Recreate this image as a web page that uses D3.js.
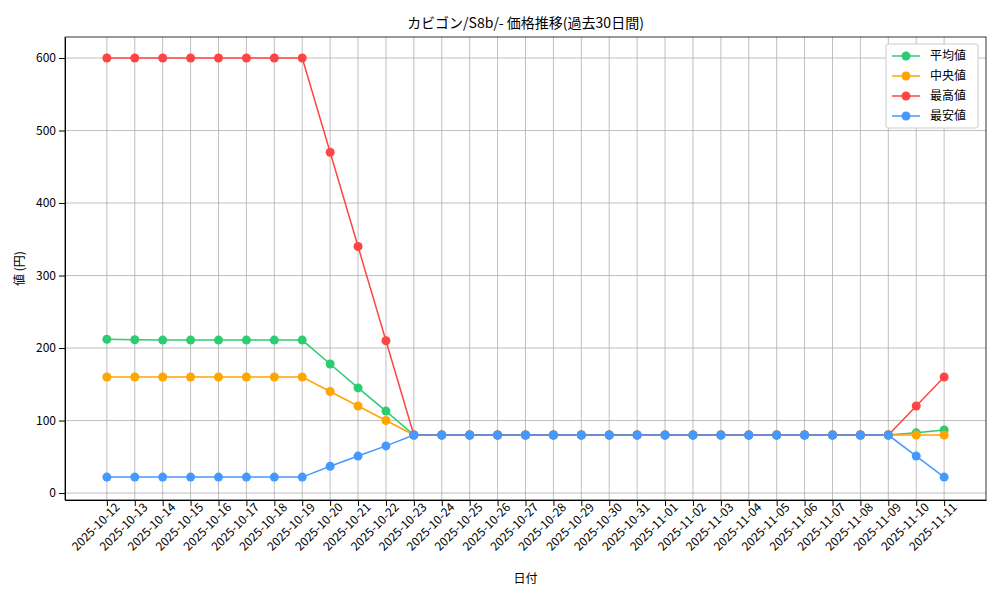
<!DOCTYPE html>
<html><head><meta charset="utf-8">
<script src="https://cdn.jsdelivr.net/npm/d3@7"></script>
<style>body{margin:0;background:#fff}text{font-family:"Noto Sans CJK JP",sans-serif}</style>
</head><body><div id="vis"></div>
<script>
const DATES = ["2025-10-12","2025-10-13","2025-10-14","2025-10-15","2025-10-16","2025-10-17","2025-10-18","2025-10-19","2025-10-20","2025-10-21","2025-10-22","2025-10-23","2025-10-24","2025-10-25","2025-10-26","2025-10-27","2025-10-28","2025-10-29","2025-10-30","2025-10-31","2025-11-01","2025-11-02","2025-11-03","2025-11-04","2025-11-05","2025-11-06","2025-11-07","2025-11-08","2025-11-09","2025-11-10","2025-11-11"];
const AVG = [212,211.5,211,211,211,211,211,211,178,145,113,80,80,80,80,80,80,80,80,80,80,80,80,80,80,80,80,80,80,83,87];
const MEDIAN = [160,160,160,160,160,160,160,160,140,120,100,80,80,80,80,80,80,80,80,80,80,80,80,80,80,80,80,80,80,80,80];
const MAX = [600,600,600,600,600,600,600,600,470,340,210,80,80,80,80,80,80,80,80,80,80,80,80,80,80,80,80,80,80,120,160];
const MIN = [22,22,22,22,22,22,22,22,37,51,65,80,80,80,80,80,80,80,80,80,80,80,80,80,80,80,80,80,80,51,22];
const Y_TICKS = [0,100,200,300,400,500,600];
const SERIES = [
  {name:"平均値", values:AVG, color:"#2ecc71"},
  {name:"中央値", values:MEDIAN, color:"#ffa500"},
  {name:"最高値", values:MAX, color:"#ff4444"},
  {name:"最安値", values:MIN, color:"#4499ff"}
];
const M = {left:65, right:14, top:37, bottom:100};
const W = 1000, H = 600, VW = W-M.left-M.right, VH = H-M.top-M.bottom;
const svg = d3.select("#vis").append("svg").attr("width",W).attr("height",H);
const g = svg.append("g").attr("transform",`translate(${M.left},${M.top})`);
const X = d3.scaleLinear().domain([-1.5, DATES.length-1+1.5]).range([0,VW]);
const Y = d3.scaleLinear().domain([-9.6, 629]).range([VH,0]);

// grid
g.selectAll(".gx").data(DATES).enter().append("line")
  .attr("x1",(d,i)=>X(i)).attr("x2",(d,i)=>X(i)).attr("y1",0).attr("y2",VH)
  .attr("stroke","#b0b0b0").attr("stroke-width",0.8);
g.selectAll(".gy").data(Y_TICKS).enter().append("line")
  .attr("x1",0).attr("x2",VW).attr("y1",d=>Y(d)).attr("y2",d=>Y(d))
  .attr("stroke","#b0b0b0").attr("stroke-width",0.8);

// axes
const xa = g.append("g").attr("transform",`translate(0,${VH})`)
  .call(d3.axisBottom(X).tickValues(d3.range(DATES.length)).tickFormat(i=>DATES[i]).tickSizeOuter(0));
xa.selectAll("text").attr("font-size","12px").attr("fill","#000")
  .attr("text-anchor","end").attr("dx","0.3em").attr("dy","0.5em").attr("transform","rotate(-45)");
const ya = g.append("g").call(d3.axisLeft(Y).tickValues(Y_TICKS).tickSizeOuter(0));
ya.selectAll("text").attr("font-size","12px").attr("fill","#000");
g.append("rect").attr("width",VW).attr("height",VH).attr("fill","none").attr("stroke","#000").attr("stroke-width",0.8);

// lines
const line = d3.line().x((d,i)=>X(i)).y(d=>Y(d));
SERIES.forEach(s=>{
  g.append("path").datum(s.values).attr("d",line).attr("fill","none").attr("stroke",s.color).attr("stroke-width",1.5);
  g.selectAll(null).data(s.values).enter().append("circle")
    .attr("cx",(d,i)=>X(i)).attr("cy",d=>Y(d)).attr("r",4.5).attr("fill",s.color);
});

// legend
const lg = g.append("g").attr("transform",`translate(${VW-100},7)`);
lg.append("rect").attr("width",92).attr("height",84).attr("fill","#fff").attr("stroke","#ccc").attr("rx",2);
SERIES.forEach((s,i)=>{
  const yy = 12+i*20;
  lg.append("line").attr("x1",6).attr("x2",34).attr("y1",yy).attr("y2",yy).attr("stroke",s.color).attr("stroke-width",1.5);
  lg.append("circle").attr("cx",20).attr("cy",yy).attr("r",4.5).attr("fill",s.color);
  lg.append("text").attr("x",44).attr("y",yy+4).attr("font-size","12px").text(s.name);
});

svg.append("text").attr("x",M.left+VW/2).attr("y",28).attr("text-anchor","middle").attr("font-size","14px").text("カビゴン/S8b/- 価格推移(過去30日間)");
svg.append("text").attr("x",M.left+VW/2).attr("y",583).attr("text-anchor","middle").attr("font-size","12px").text("日付");
svg.append("text").attr("transform",`translate(24,${M.top+VH/2}) rotate(-90)`).attr("text-anchor","middle").attr("font-size","12px").text("値 (円)");
</script></body></html>
